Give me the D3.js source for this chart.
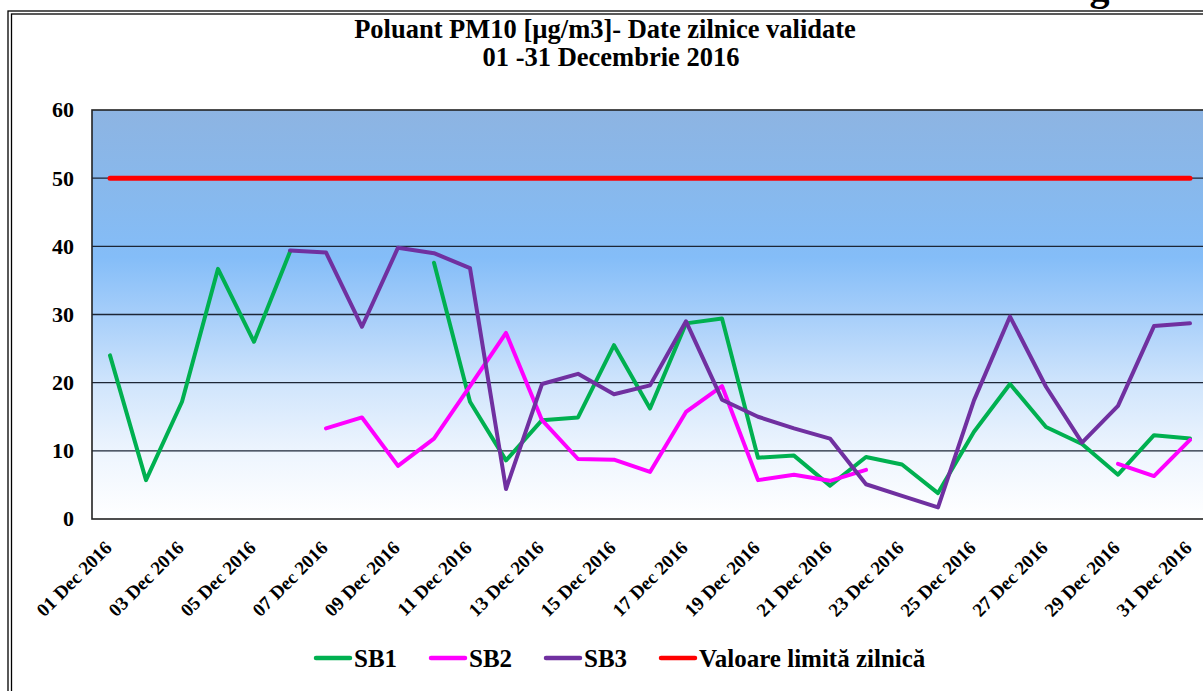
<!DOCTYPE html>
<html>
<head>
<meta charset="utf-8">
<script src="https://cdn.jsdelivr.net/npm/d3@7"></script>
<style>
  html, body { margin: 0; padding: 0; background: #fff; overflow: hidden; }
  svg { display: block; font-family: "Liberation Serif", "Times New Roman", serif; font-weight: bold; }
</style>
</head>
<body>
<svg id="chart" width="1203" height="691"></svg>
<script>
// day labels on the category axis
const days = [
  "01 Dec 2016", "02 Dec 2016", "03 Dec 2016", "04 Dec 2016", "05 Dec 2016", "06 Dec 2016",
  "07 Dec 2016", "08 Dec 2016", "09 Dec 2016", "10 Dec 2016", "11 Dec 2016", "12 Dec 2016",
  "13 Dec 2016", "14 Dec 2016", "15 Dec 2016", "16 Dec 2016", "17 Dec 2016", "18 Dec 2016",
  "19 Dec 2016", "20 Dec 2016", "21 Dec 2016", "22 Dec 2016", "23 Dec 2016", "24 Dec 2016",
  "25 Dec 2016", "26 Dec 2016", "27 Dec 2016", "28 Dec 2016", "29 Dec 2016", "30 Dec 2016",
  "31 Dec 2016"
];
// only every second day gets a label
const shownLabels = [
  "01 Dec 2016", "03 Dec 2016", "05 Dec 2016", "07 Dec 2016", "09 Dec 2016", "11 Dec 2016",
  "13 Dec 2016", "15 Dec 2016", "17 Dec 2016", "19 Dec 2016", "21 Dec 2016", "23 Dec 2016",
  "25 Dec 2016", "27 Dec 2016", "29 Dec 2016", "31 Dec 2016"
];
const yTicks = [0, 10, 20, 30, 40, 50, 60];

// daily PM10 values (null = no validated data)
const sb1 = [24.0, 5.7, 17.2, 36.7, 26.0, 39.2, null, null, null, 37.6, 17.2, 8.6, 14.5, 14.9, 25.5, 16.2,
  28.7, 29.4, 9.0, 9.3, 4.9, 9.1, 8.0, 3.8, 12.8, 19.8, 13.5, 11.0, 6.5, 12.3, 11.8];
const sb2 = [null, null, null, null, null, null, 13.3, 14.9, 7.8, 11.8, 19.5, 27.3, 14.5, 8.8, 8.7, 6.9,
  15.7, 19.5, 5.7, 6.5, 5.6, 7.2, null, null, null, null, null, null, 8.1, 6.3, 11.6];
const sb3 = [null, null, null, null, null, 39.4, 39.1, 28.2, 39.8, 39.0, 36.8, 4.4, 19.8, 21.3, 18.3, 19.6,
  29.0, 17.5, 15.0, 13.3, 11.8, 5.1, 3.4, 1.7, 17.4, 29.7, 19.4, 11.2, 16.6, 28.3, 28.7];
const limit = [50, 50, 50, 50, 50, 50, 50, 50, 50, 50, 50, 50, 50, 50, 50, 50,
  50, 50, 50, 50, 50, 50, 50, 50, 50, 50, 50, 50, 50, 50, 50];

const seriesNames = ["SB1", "SB2", "SB3", "Valoare limită zilnică"];
const seriesColors = ["#00b050", "#ff00ff", "#7030a0", "#ff0000"];

const svg = d3.select("#chart");
const plot = { left: 92, right: 1208, top: 110, bottom: 519 };

const x = d3.scalePoint().domain(days).range([plot.left, plot.right]).padding(0.5);
const y = d3.scaleLinear().domain([0, 60]).range([plot.bottom, plot.top]);

// outer double frame (cropped on the right and bottom)
svg.append("rect").attr("x", 8).attr("y", 11).attr("width", 1300).attr("height", 800)
  .attr("fill", "none").attr("stroke", "#000").attr("stroke-width", 1.3);
svg.append("rect").attr("x", 11.5).attr("y", 14).attr("width", 1300).attr("height", 800)
  .attr("fill", "none").attr("stroke", "#000").attr("stroke-width", 1.3);

// figure caption above the frame, cut by the page edge as in the scan
svg.append("text").attr("x", 1054).attr("y", 0).attr("font-size", 40).text("Fig. 5");

// title
svg.append("text").attr("x", 605).attr("y", 38).attr("text-anchor", "middle")
  .attr("font-size", 26.5).text("Poluant PM10 [µg/m3]- Date zilnice validate");
svg.append("text").attr("x", 611).attr("y", 66).attr("text-anchor", "middle")
  .attr("font-size", 26.5).text("01 -31 Decembrie 2016");

// plot background gradient
const grad = svg.append("defs").append("linearGradient")
  .attr("id", "bg").attr("x1", 0).attr("y1", 0).attr("x2", 0).attr("y2", 1);
[[0, "#8db4e2"], [0.22, "#87b9ee"], [0.36, "#84bdf8"], [0.5, "#a6cefa"],
 [0.68, "#d2e6fc"], [0.84, "#eef5fe"], [1, "#ffffff"]].forEach(s => {
  grad.append("stop").attr("offset", s[0]).attr("stop-color", s[1]);
});
svg.append("rect").attr("x", plot.left).attr("y", plot.top)
  .attr("width", plot.right - plot.left).attr("height", plot.bottom - plot.top)
  .attr("fill", "url(#bg)");

// gridlines
svg.append("g").selectAll("line").data(yTicks.slice(1, -1)).enter().append("line")
  .attr("x1", plot.left).attr("x2", plot.right)
  .attr("y1", d => y(d)).attr("y2", d => y(d))
  .attr("stroke", "#1c2636").attr("stroke-width", 1.4);

// plot frame
svg.append("rect").attr("x", plot.left).attr("y", plot.top)
  .attr("width", plot.right - plot.left).attr("height", plot.bottom - plot.top)
  .attr("fill", "none").attr("stroke", "#222").attr("stroke-width", 1.6);

// y axis labels
svg.append("g").selectAll("text").data(yTicks).enter().append("text")
  .attr("x", 74).attr("y", d => y(d)).attr("dy", "0.34em")
  .attr("text-anchor", "end").attr("font-size", 22).text(d => d);

// x axis labels, rotated
svg.append("g").selectAll("text").data(shownLabels).enter().append("text")
  .attr("transform", d => `translate(${x(d) + 3},${549}) rotate(-45)`)
  .attr("text-anchor", "end").attr("font-size", 19).text(d => d);

// series lines
const line = d3.line()
  .defined(d => d.v != null)
  .x(d => x(d.day))
  .y(d => y(d.v));

const allSeries = [sb1, sb2, sb3, limit];
allSeries.forEach((vals, i) => {
  const pts = vals.map((v, j) => ({ day: days[j], v: v }));
  svg.append("path").datum(pts)
    .attr("fill", "none")
    .attr("stroke", seriesColors[i])
    .attr("stroke-width", i === 3 ? 5 : 4)
    .attr("stroke-linejoin", "round")
    .attr("stroke-linecap", "round")
    .attr("d", line);
});

// legend
const legendX = [316, 431, 546, 661];
const leg = svg.append("g").selectAll("g").data(seriesNames).enter().append("g")
  .attr("transform", (d, i) => `translate(${legendX[i]},658)`);
leg.append("line").attr("x1", 0).attr("x2", 34).attr("y1", 0).attr("y2", 0)
  .attr("stroke", (d, i) => seriesColors[i]).attr("stroke-width", 4.5)
  .attr("stroke-linecap", "round");
leg.append("text").attr("x", 38).attr("y", 9).attr("font-size", 25).text(d => d);
</script>
</body>
</html>
